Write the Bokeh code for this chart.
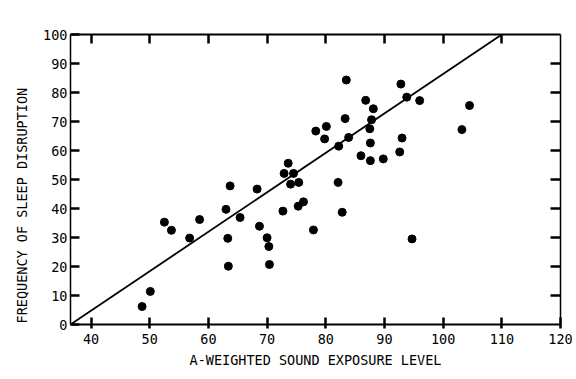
from bokeh.plotting import figure
from bokeh.models import LinearAxis, FixedTicker, Title, Range1d
from bokeh.embed import file_html
from bokeh.resources import INLINE

# Data
sel_db = [48.7, 50.1, 52.5, 53.7, 56.8, 58.5, 63.0, 63.7, 63.3, 63.4,
          65.4, 68.3, 68.7, 70.0, 70.3, 70.4, 72.7, 73.6, 72.9, 74.5,
          74.0, 75.4, 75.3, 76.2, 77.9, 83.5, 92.8, 86.8, 88.1, 93.8,
          96.0, 104.5, 83.3, 87.8, 78.3, 80.1, 79.8, 83.9, 82.2, 87.5,
          87.6, 93.0, 103.2, 86.0, 87.6, 89.8, 92.6, 82.1, 82.8, 94.7]
freq = [6.2, 11.4, 35.3, 32.5, 29.8, 36.2, 39.7, 47.8, 29.7, 20.1,
        36.9, 46.7, 33.9, 29.9, 26.9, 20.7, 39.1, 55.6, 52.1, 52.1,
        48.4, 49.0, 40.8, 42.3, 32.6, 84.3, 82.9, 77.3, 74.4, 78.4,
        77.2, 75.5, 71.0, 70.6, 66.7, 68.3, 64.0, 64.5, 61.5, 67.5,
        62.6, 64.3, 67.2, 58.2, 56.5, 57.1, 59.5, 49.0, 38.7, 29.5]

fit_x = [36.5, 110.0]
fit_y = [0.0, 100.0]

x_ticks = [40, 50, 60, 70, 80, 90, 100, 110, 120]
y_ticks = [0, 10, 20, 30, 40, 50, 60, 70, 80, 90, 100]

x_title = "A-WEIGHTED SOUND EXPOSURE LEVEL"
y_title = "FREQUENCY OF SLEEP DISRUPTION"

FONT = "DejaVu Sans Mono"
FS = "13.5px"

p = figure(width=576, height=375,
           x_range=Range1d(36.5, 120), y_range=Range1d(0, 100),
           output_backend="svg", toolbar_location=None,
           x_axis_location=None, y_axis_location=None,
           min_border_left=70, min_border_right=16,
           min_border_top=34, min_border_bottom=51)
p.grid.visible = False
p.outline_line_color = None
p.background_fill_color = "white"
p.border_fill_color = "white"


def style_axis(ax, tick_in, tick_out, lw, labels=True):
    ax.axis_line_color = "black"
    ax.axis_line_width = lw
    ax.major_tick_line_color = "black"
    ax.major_tick_line_width = 2.5
    ax.major_tick_in = tick_in
    ax.major_tick_out = tick_out
    ax.minor_tick_line_color = None
    ax.major_label_text_font = FONT
    ax.major_label_text_font_size = FS
    ax.major_label_text_color = "black" if labels else None
    ax.axis_label_text_font = FONT
    ax.axis_label_text_font_size = FS
    ax.axis_label_text_font_style = "normal"
    ax.axis_label_text_color = "black"


bottom = LinearAxis(ticker=FixedTicker(ticks=x_ticks), axis_label=x_title)
style_axis(bottom, 7, 4, 2)
bottom.major_label_standoff = 5
bottom.axis_label_standoff = 5
p.add_layout(bottom, "below")

left = LinearAxis(ticker=FixedTicker(ticks=y_ticks))
style_axis(left, 9, 0, 1.5)
left.major_label_standoff = 3
p.add_layout(left, "left")

top = LinearAxis(ticker=FixedTicker(ticks=x_ticks[:-1]))
style_axis(top, 9, 0, 2, labels=False)
top.major_label_standoff = 0
p.add_layout(top, "above")

right = LinearAxis(ticker=FixedTicker(ticks=y_ticks[1:-1]))
style_axis(right, 10, 0, 1.5, labels=False)
right.major_label_standoff = 0
p.add_layout(right, "right")

ytitle = Title(text=y_title, align="left", text_font=FONT, text_font_size=FS,
               text_font_style="normal", text_color="black", offset=1, standoff=22)
p.add_layout(ytitle, "left")

p.line(fit_x, fit_y, line_color="black", line_width=1.8)
p.scatter(sel_db, freq, marker="circle", size=8, fill_color="black", line_color="black")

open("out.html", "w").write(file_html(p, INLINE))
